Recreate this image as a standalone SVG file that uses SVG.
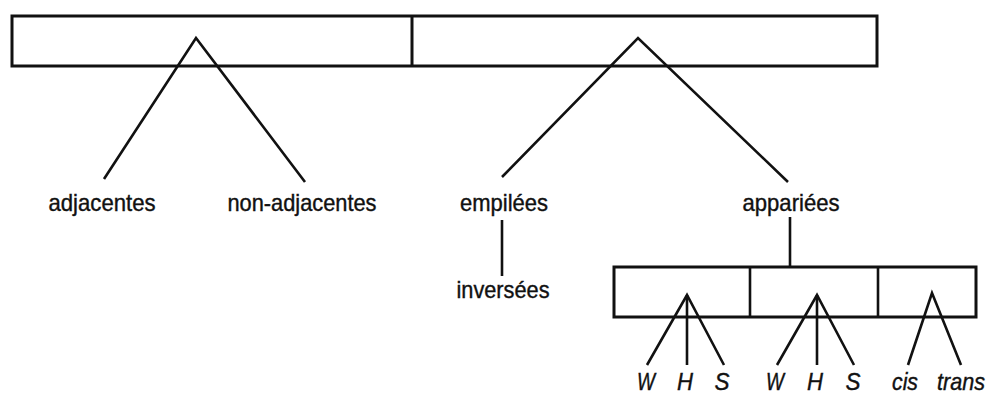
<svg xmlns="http://www.w3.org/2000/svg" width="990" height="396" viewBox="0 0 990 396">
<style>
.box{fill:#fff;stroke:#111;stroke-width:3}
.ln{stroke:#111;stroke-width:2.6;fill:none;stroke-linejoin:miter}
text{font-family:"Liberation Sans",Arial,sans-serif;font-size:24px;fill:#111;stroke:#111;stroke-width:0.4;text-anchor:middle}
.it{font-style:italic;font-size:24px}
</style>
<rect width="990" height="396" fill="#fff"/>
<g id="top-box">
<rect class="box" x="12" y="16" width="865" height="50"/>
<line class="ln" x1="412" y1="16" x2="412" y2="66" style="stroke-width:3"/>
</g>
<g id="pair-box">
<rect class="box" x="614" y="267" width="362" height="50"/>
<line class="ln" x1="750" y1="267" x2="750" y2="317"/>
<line class="ln" x1="878" y1="267" x2="878" y2="317"/>
</g>
<g id="connectors">
<polyline class="ln" points="104,179 196,38 305,182"/>
<polyline class="ln" points="502,177 638,38 788,182"/>
<line class="ln" x1="502" y1="220" x2="502" y2="276"/>
<line class="ln" x1="790" y1="217" x2="790" y2="267"/>
<polyline class="ln" points="647,365 687,295 724,365"/>
<line class="ln" x1="687" y1="295" x2="687" y2="365"/>
<polyline class="ln" points="777,365 817,295 854,365"/>
<line class="ln" x1="817" y1="295" x2="817" y2="365"/>
<polyline class="ln" points="908,365 932,293 961,365"/>
</g>
<g id="adjacentes"><text x="102" y="211" textLength="107" lengthAdjust="spacingAndGlyphs">adjacentes</text></g>
<g id="non-adjacentes"><text x="302" y="211" textLength="149" lengthAdjust="spacingAndGlyphs">non-adjacentes</text></g>
<g id="empilees"><text x="504" y="211" textLength="88" lengthAdjust="spacingAndGlyphs">empilées</text></g>
<g id="appariees"><text x="791" y="211" textLength="97" lengthAdjust="spacingAndGlyphs">appariées</text></g>
<g id="inversees"><text x="503" y="298" textLength="93" lengthAdjust="spacingAndGlyphs">inversées</text></g>
<g id="leaves">
<text class="it" x="646" y="390" textLength="18" lengthAdjust="spacingAndGlyphs">W</text>
<text class="it" x="685" y="390" textLength="16" lengthAdjust="spacingAndGlyphs">H</text>
<text class="it" x="722" y="390" textLength="15" lengthAdjust="spacingAndGlyphs">S</text>
<text class="it" x="775" y="390" textLength="18" lengthAdjust="spacingAndGlyphs">W</text>
<text class="it" x="815" y="390" textLength="16" lengthAdjust="spacingAndGlyphs">H</text>
<text class="it" x="853" y="390" textLength="15" lengthAdjust="spacingAndGlyphs">S</text>
<text class="it" x="905" y="390" textLength="26" lengthAdjust="spacingAndGlyphs">cis</text>
<text class="it" x="961" y="390" textLength="48" lengthAdjust="spacingAndGlyphs">trans</text>
</g>
</svg>
